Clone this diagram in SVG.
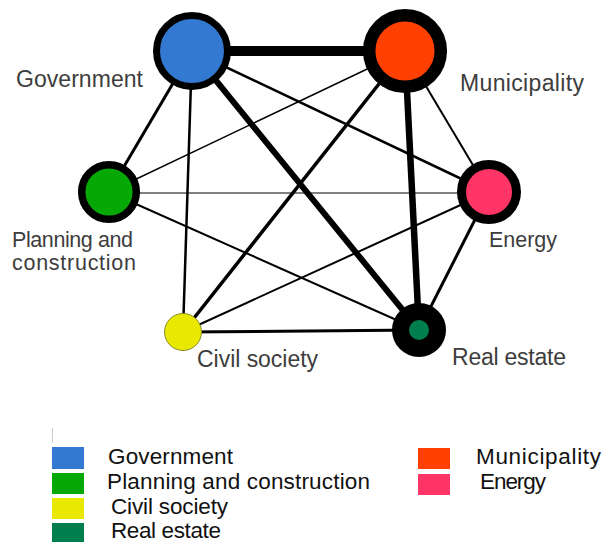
<svg xmlns="http://www.w3.org/2000/svg" width="604" height="542" viewBox="0 0 604 542">
  <style>
    .edge { stroke: #000; fill: none; stroke-linecap: butt; }
    .label { font-family: "Liberation Sans", Arial, sans-serif; font-size: 23px; fill: #3d3d3d; }
    .label.small { font-size: 21.5px; }
    .legend { font-family: "Liberation Sans", Arial, sans-serif; font-size: 22.5px; fill: #111; }
  </style>
  <rect width="604" height="542" fill="#fff"/>

  <!-- connectors: stroke width shows tie strength -->
  <g id="connectors">
    <line class="edge" x1="109" y1="193" x2="489" y2="193" stroke="#777" stroke-width="1"/>
    <line class="edge" x1="109" y1="192" x2="405" y2="51" stroke-width="1.5"/>
    <line class="edge" x1="109" y1="192" x2="419" y2="330" stroke-width="2"/>
    <line class="edge" x1="192" y1="51" x2="489" y2="192" stroke-width="2.5"/>
    <line class="edge" x1="192" y1="51" x2="109" y2="192" stroke-width="3"/>
    <line class="edge" x1="192" y1="51" x2="183" y2="332" stroke-width="2.5"/>
    <line class="edge" x1="183" y1="332" x2="489" y2="192" stroke-width="2"/>
    <line class="edge" x1="183" y1="332" x2="405" y2="51" stroke-width="3.5"/>
    <line class="edge" x1="183" y1="332" x2="419" y2="330" stroke-width="3"/>
    <line class="edge" x1="405" y1="51" x2="489" y2="192" stroke-width="2"/>
    <line class="edge" x1="489" y1="192" x2="419" y2="330" stroke-width="3"/>
    <line class="edge" x1="192" y1="51" x2="419" y2="330" stroke-width="6"/>
    <line class="edge" x1="405" y1="51" x2="419" y2="330" stroke-width="6.5"/>
    <line class="edge" x1="192" y1="51" x2="405" y2="51" stroke-width="10"/>
  </g>

  <!-- actors -->
  <g id="government">
    <circle cx="192" cy="51" r="35.5" fill="#3479d1" stroke="#000" stroke-width="7"/>
    <text class="label" x="16" y="87" textLength="127">Government</text>
  </g>
  <g id="municipality">
    <circle cx="405" cy="51" r="35.8" fill="#ff4000" stroke="#000" stroke-width="12.5"/>
    <text class="label" x="460" y="91" textLength="124">Municipality</text>
  </g>
  <g id="planning">
    <circle cx="109" cy="192" r="27.3" fill="#06a806" stroke="#000" stroke-width="7.5"/>
    <text class="label small" x="12" y="247" textLength="121">Planning and</text>
    <text class="label small" x="12" y="270" textLength="124">construction</text>
  </g>
  <g id="energy">
    <circle cx="489" cy="192" r="27.5" fill="#ff3567" stroke="#000" stroke-width="9"/>
    <text class="label small" x="489" y="247" textLength="68">Energy</text>
  </g>
  <g id="civil-society">
    <circle cx="183" cy="332" r="18.5" fill="#e8e800" stroke="#8c8c30" stroke-width="1"/>
    <text class="label" x="197" y="367" textLength="121">Civil society</text>
  </g>
  <g id="real-estate">
    <circle cx="419" cy="330" r="18.5" fill="#007f4e" stroke="#000" stroke-width="17"/>
    <text class="label" x="452" y="365" textLength="114">Real estate</text>
  </g>

  <!-- legend -->
  <g id="legend">
    <line x1="52.5" y1="428" x2="52.5" y2="443" stroke="#ccc" stroke-width="1"/>
    <rect x="52" y="447" width="32" height="22" fill="#3479d1"/>
    <rect x="52" y="473" width="32" height="21" fill="#06a806"/>
    <rect x="52" y="498" width="32" height="21" fill="#e8e800"/>
    <rect x="52" y="523" width="32" height="19" fill="#007f4e"/>
    <rect x="418" y="448" width="32" height="21" fill="#ff4000"/>
    <rect x="418" y="474" width="32" height="21" fill="#ff3567"/>
    <text class="legend" x="108" y="464" textLength="125">Government</text>
    <text class="legend" x="107" y="489" textLength="263">Planning and construction</text>
    <text class="legend" x="111" y="514" textLength="117">Civil society</text>
    <text class="legend" x="111" y="538" textLength="110">Real estate</text>
    <text class="legend" x="476" y="464" textLength="125">Municipality</text>
    <text class="legend" x="480" y="489" textLength="66">Energy</text>
  </g>
</svg>
